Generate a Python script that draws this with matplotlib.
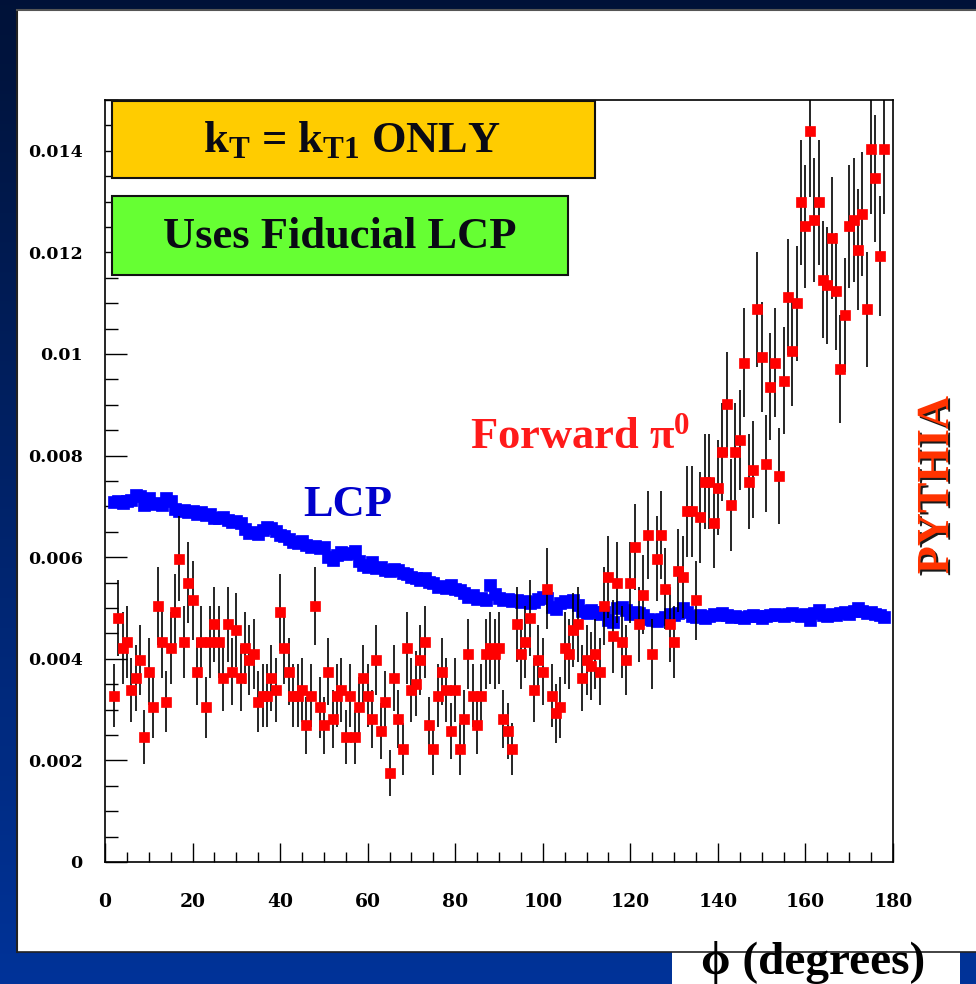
import numpy as np
import matplotlib
matplotlib.use('Agg')
import matplotlib.pyplot as plt
from matplotlib.patches import Rectangle
import matplotlib.patheffects as pe

plt.rcParams['font.family'] = ['Liberation Serif', 'DejaVu Serif']
plt.rcParams['mathtext.fontset'] = 'custom'
plt.rcParams['mathtext.rm'] = 'Liberation Serif'
plt.rcParams['mathtext.bf'] = 'Liberation Serif:bold'
plt.rcParams['mathtext.it'] = 'Liberation Serif:italic'

# azimuthal bins (degrees), one per degree
phi = np.arange(2, 179)

# leading charged particle, normalised per bin
lcp = [
    0.00709, 0.00711, 0.00707, 0.00710, 0.00712, 0.00722, 0.00720, 0.00703, 0.00716, 0.00704,
    0.00706, 0.00703, 0.00717, 0.00710, 0.00694, 0.00690, 0.00693, 0.00688, 0.00690, 0.00686,
    0.00688, 0.00684, 0.00686, 0.00678, 0.00677, 0.00680, 0.00674, 0.00670, 0.00672, 0.00668,
    0.00655, 0.00648, 0.00650, 0.00645, 0.00654, 0.00660, 0.00657, 0.00652, 0.00644, 0.00642,
    0.00636, 0.00630, 0.00627, 0.00632, 0.00625, 0.00620, 0.00622, 0.00618, 0.00620, 0.00600,
    0.00594, 0.00605, 0.00610, 0.00606, 0.00608, 0.00612, 0.00592, 0.00585, 0.00580, 0.00590,
    0.00578, 0.00580, 0.00575, 0.00572, 0.00576, 0.00575, 0.00568, 0.00566, 0.00562, 0.00560,
    0.00556, 0.00560, 0.00552, 0.00550, 0.00542, 0.00544, 0.00540, 0.00545, 0.00538, 0.00536,
    0.00530, 0.00522, 0.00526, 0.00518, 0.00520, 0.00516, 0.00545, 0.00528, 0.00520, 0.00515,
    0.00518, 0.00514, 0.00515, 0.00512, 0.00514, 0.00510, 0.00512, 0.00518, 0.00522, 0.00520,
    0.00502, 0.00498, 0.00510, 0.00514, 0.00512, 0.00516, 0.00505, 0.00494, 0.00490, 0.00496,
    0.00492, 0.00488, 0.00492, 0.00476, 0.00472, 0.00500, 0.00502, 0.00496, 0.00488, 0.00492,
    0.00490, 0.00486, 0.00478, 0.00476, 0.00474, 0.00478, 0.00482, 0.00488, 0.00486, 0.00490,
    0.00500, 0.00492, 0.00484, 0.00482, 0.00486, 0.00480, 0.00484, 0.00488, 0.00486, 0.00490,
    0.00486, 0.00482, 0.00484, 0.00482, 0.00480, 0.00484, 0.00486, 0.00484, 0.00480, 0.00484,
    0.00486, 0.00488, 0.00486, 0.00484, 0.00488, 0.00490, 0.00486, 0.00484, 0.00488, 0.00476,
    0.00490, 0.00496, 0.00486, 0.00484, 0.00488, 0.00486, 0.00490, 0.00492, 0.00488, 0.00494,
    0.00500, 0.00494, 0.00490, 0.00492, 0.00488, 0.00486, 0.00482,
]

# forward pi0: raw entries per bin and the per-entry weight
pi0_counts = [
    28, 41, 36, 37, 29, 31, 34, 21, 32, 26,
    43, 37, 27, 36, 42, 51, 37, 47, 44, 32,
    37, 26, 37, 40, 37, 31, 40, 32, 39, 31,
    36, 34, 35, 27, 28, 28, 31, 29, 42, 36,
    32, 28, 28, 29, 23, 28, 43, 26, 23, 32,
    24, 28, 29, 21, 28, 21, 26, 31, 28, 24,
    34, 22, 27, 15, 31, 24, 19, 36, 29, 30,
    34, 37, 23, 19, 28, 32, 29, 22, 29, 19,
    24, 35, 28, 23, 28, 35, 36, 35, 36, 24,
    22, 19, 40, 35, 37, 41, 29, 34, 32, 46,
    28, 25, 26, 36, 35, 39, 40, 31, 34, 33,
    35, 32, 43, 48, 38, 47, 37, 34, 47, 53,
    40, 45, 55, 35, 51, 55, 46, 40, 37, 49,
    48, 59, 59, 44, 58, 64, 64, 57, 63, 69,
    77, 60, 69, 71, 84, 64, 66, 93, 85, 67,
    80, 84, 65, 81, 95, 86, 94, 111, 107, 123,
    108, 111, 98, 97, 105, 96, 83, 92, 107, 108,
    103, 109, 93, 120, 115, 102, 120,
]
pi0_weight = 1.17e-4

counts = np.array(pi0_counts, dtype=float)
pi0 = counts * pi0_weight
pi0_err = np.sqrt(counts) * pi0_weight

W, H = 976, 984
fig = plt.figure(figsize=(W / 100, H / 100), dpi=100)

# slide background: dark blue gradient with a white panel
bg = fig.add_axes([0, 0, 1, 1])
bg.set_axis_off()
t = np.linspace(0, 1, H)[:, None, None]
top = np.array([0.0, 0.07, 0.22])
bot = np.array([0.0, 0.20, 0.60])
grad = top + (bot - top) * t
grad = np.repeat(grad, 4, axis=1)
bg.imshow(grad, extent=[0, W, H, 0], aspect='auto', interpolation='bilinear')
bg.set_xlim(0, W)
bg.set_ylim(H, 0)
bg.add_patch(Rectangle((17, 10), W - 17, 942, facecolor='white', edgecolor='none'))
bg.plot([17, 17], [10, 952], color='#222222', lw=1.5)
bg.plot([17, W], [10, 10], color='#555555', lw=1.5)
bg.plot([17, W], [952, 952], color='#222222', lw=1.2)
bg.add_patch(Rectangle((672, 952), 288, 34, facecolor='white', edgecolor='none'))

# main frame
ax = fig.add_axes([105 / W, 1 - 862 / H, 788 / W, 762 / H])
ax.set_xlim(0, 180)
ax.set_ylim(0, 0.015)
ax.plot(phi, lcp, 's', color='#0000ff', ms=9, mec='#0000ff', mew=0.5, zorder=2)
ax.errorbar(phi, pi0, yerr=pi0_err, fmt='s', color='#ff0000', ms=7.4, mec='#ff0000',
            mew=0.5, ecolor='black', elinewidth=1.2, capsize=0, zorder=3)

ax.set_xticks(np.arange(0, 181, 20))
ax.set_xticks(np.arange(0, 181, 5), minor=True)
yt = np.arange(0, 0.0141, 0.002)
ax.set_yticks(yt)
ax.set_yticks(np.arange(0, 0.0151, 0.0005), minor=True)
ax.set_yticklabels(['0', '0.002', '0.004', '0.006', '0.008', '0.01', '0.012', '0.014'])
ax.tick_params(which='both', direction='in', top=False, right=False, width=1.0, color='black')
ax.tick_params(which='major', axis='x', length=14, pad=22)
ax.tick_params(which='minor', axis='x', length=7)
ax.tick_params(which='major', axis='y', length=16, pad=16)
ax.tick_params(which='minor', axis='y', length=9)
for lab in ax.get_xticklabels():
    lab.set_fontfamily('DejaVu Serif')
    lab.set_fontweight('bold')
    lab.set_fontsize(13.5)
for lab in ax.get_yticklabels():
    lab.set_fontfamily('DejaVu Serif')
    lab.set_fontweight('bold')
    lab.set_fontsize(12.5)
for sp in ax.spines.values():
    sp.set_linewidth(1.2)

# labels and boxes drawn above the frame, in pixel coordinates
ov = fig.add_axes([0, 0, 1, 1])
ov.set_axis_off()
ov.set_xlim(0, W)
ov.set_ylim(H, 0)
ov.patch.set_alpha(0)

ov.add_patch(Rectangle((112, 101), 483, 77, facecolor='#ffcc00', edgecolor='#111111', lw=1.5))
ov.add_patch(Rectangle((112, 196), 456, 79, facecolor='#66ff33', edgecolor='#111111', lw=1.5))
ov.text(352, 140, r'$\mathbf{k}_{\mathbf{T}}$ = $\mathbf{k}_{\mathbf{T1}}$ ONLY', fontsize=32,
        fontweight='bold', ha='center', va='center', color='#0a0a14')
ov.text(340, 237, 'Uses Fiducial LCP', fontsize=32, fontweight='bold',
        ha='center', va='center', color='#0a0a14')
ov.text(348, 505, 'LCP', fontsize=32, fontweight='bold', ha='center', va='center',
        color='#0000cc')
ov.text(580, 437, r'Forward $\mathbf{\pi}^{\mathbf{0}}$', fontsize=32, fontweight='bold',
        ha='center', va='center', color='#ff1a1a')
ov.text(937, 485, 'PYTHIA', fontsize=33, fontweight='bold', ha='center', va='center',
        rotation=90, color='#ff3300',
        path_effects=[pe.SimplePatchShadow(offset=(1.5, -1.5), shadow_rgbFace='black', alpha=0.9),
                      pe.Normal()])
fig.text(813 / W, 1 - 962 / H, '\u03d5 (degrees)', fontsize=34, fontweight='bold',
         ha='center', va='center', color='black')

fig.savefig('out.png', dpi=100)
